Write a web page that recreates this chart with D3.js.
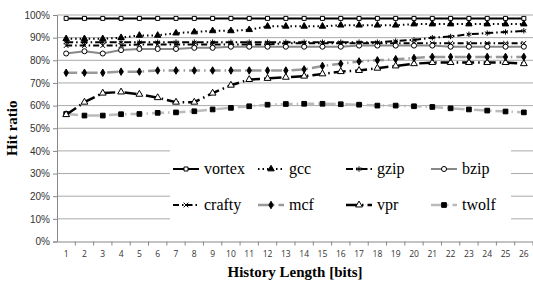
<!DOCTYPE html>
<html>
<head>
<meta charset="utf-8">
<script src="https://cdn.jsdelivr.net/npm/d3@7"></script>
<style>
  body { margin: 0; background: #fff; }
  svg { display: block; }
</style>
</head>
<body>
<div class="chart"></div>
<script>
const width = 533;
const height = 284;

// history length categories
const lengths = [1, 2, 3, 4, 5, 6, 7, 8, 9, 10, 11, 12, 13, 14, 15, 16, 17, 18, 19, 20, 21, 22, 23, 24, 25, 26];
const yTicks = [0, 10, 20, 30, 40, 50, 60, 70, 80, 90, 100];

// hit ratio (%) per benchmark
const vortex = [98.5, 98.5, 98.5, 98.5, 98.5, 98.5, 98.5, 98.5, 98.5, 98.5, 98.5, 98.5, 98.5, 98.5, 98.5, 98.5, 98.5, 98.5, 98.5, 98.5, 98.5, 98.5, 98.5, 98.5, 98.5, 98.5];
const gcc = [89.5, 89.5, 89.5, 90, 91, 91, 92, 92.5, 93, 93, 93.5, 95, 95, 95, 95, 95.5, 95.5, 95.5, 95.5, 96, 96, 96, 96, 96, 96, 96];
const gzip = [88, 88, 88, 88, 88, 88, 88, 88, 88, 88, 88, 88, 88, 88, 88, 88, 88, 88, 88.5, 89, 90, 90.5, 91.5, 92, 92.5, 93];
const bzip = [83, 84, 83, 84.5, 85, 85, 85, 85.5, 85.5, 86, 86, 86, 86, 86, 86, 86, 86.5, 86.5, 86.5, 86.5, 86.5, 86, 86, 86, 86, 86];
const crafty = [86.5, 86.5, 86.5, 86.5, 87, 87, 87, 87, 87, 87, 87, 87, 87.5, 87.5, 87.5, 87.5, 87.5, 87.5, 87.5, 87.5, 87.5, 87.5, 87.5, 87.5, 87.5, 87.5];
const mcf = [74.5, 74.5, 74.5, 75, 75, 75.5, 75.5, 75.5, 75.5, 75.5, 75.5, 75.5, 75.5, 76, 77.5, 78.5, 79.5, 80, 80.5, 81, 81.5, 81.5, 81.5, 81.5, 81.5, 81.5];
const vpr = [56, 61.5, 65.5, 66, 65, 63.5, 61.5, 61.5, 65.5, 69, 71.5, 72, 72.5, 73, 74, 75, 75.5, 76.5, 77.5, 78.5, 79, 79, 79, 79, 79, 78.5];
const twolf = [56.3, 55.6, 55.6, 56.2, 56.3, 56.8, 57, 57.5, 58.3, 59, 59.7, 60.4, 60.7, 60.8, 60.8, 60.6, 60.4, 60, 60, 59.7, 59.4, 58.8, 58.3, 57.8, 57.4, 57];

const seriesNames = ['vortex', 'gcc', 'gzip', 'bzip', 'crafty', 'mcf', 'vpr', 'twolf'];
const seriesValues = [vortex, gcc, gzip, bzip, crafty, mcf, vpr, twolf];

// look of each series
const styles = {
  vortex: { stroke: '#000', sw: 2, dash: null, sym: d3.symbolSquare, size: 16, fill: '#fff', mstroke: '#000' },
  gcc:    { stroke: '#000', sw: 2, dash: '1.5,3', sym: d3.symbolTriangle, size: 18, fill: '#000', mstroke: '#000' },
  gzip:   { stroke: '#000', sw: 2, dash: '7,3,1.5,3', sym: d3.symbolAsterisk, size: 20, fill: 'none', mstroke: '#000' },
  bzip:   { stroke: '#888', sw: 2, dash: null, sym: d3.symbolCircle, size: 20, fill: '#fff', mstroke: '#000' },
  crafty: { stroke: '#000', sw: 2, dash: '6,3,1.5,3', sym: d3.symbolTimes, size: 16, fill: 'none', mstroke: '#000' },
  mcf:    { stroke: '#999', sw: 2.5, dash: '11,4,1.5,4', sym: d3.symbolDiamond, size: 16, fill: '#000', mstroke: '#000' },
  vpr:    { stroke: '#000', sw: 2.5, dash: '12,4,1.5,4', sym: d3.symbolTriangle, size: 20, fill: '#fff', mstroke: '#000' },
  twolf:  { stroke: '#bbb', sw: 2.5, dash: '12,4,1.5,4', sym: d3.symbolSquare, size: 22, fill: '#000', mstroke: '#000' }
};

const margin = { top: 15, right: 0, bottom: 42.5, left: 57 };

const svg = d3.select('.chart').append('svg')
  .attr('width', width)
  .attr('height', height);

const x = d3.scaleBand()
  .domain(lengths)
  .range([margin.left, width - margin.right]);

const y = d3.scaleLinear()
  .domain([0, 100])
  .range([height - margin.bottom, margin.top]);

const cx = d => x(d) + x.bandwidth() / 2;

// gridlines
svg.append('g')
  .selectAll('line')
  .data(yTicks.filter(t => t > 0))
  .enter().append('line')
  .attr('x1', margin.left)
  .attr('x2', width - margin.right)
  .attr('y1', d => y(d))
  .attr('y2', d => y(d))
  .attr('stroke', '#aaa')
  .attr('stroke-width', 1);

// y axis
const yAxis = svg.append('g')
  .attr('transform', `translate(${margin.left},0)`)
  .call(d3.axisLeft(y).tickValues(yTicks).tickFormat(d => d + '%').tickSize(4).tickPadding(3));
yAxis.select('.domain').attr('stroke', '#888');
yAxis.selectAll('.tick line').attr('stroke', '#888');
yAxis.selectAll('text')
  .attr('font-family', 'Liberation Sans, Arial, sans-serif')
  .attr('font-size', 10)
  .attr('fill', '#333');

// x axis
const xAxis = svg.append('g')
  .attr('transform', `translate(0,${y(0)})`)
  .call(d3.axisBottom(x).tickSize(0).tickPadding(9));
xAxis.select('.domain').attr('stroke', '#888');
xAxis.selectAll('text')
  .attr('font-family', 'Open Sans, sans-serif')
  .attr('font-size', 8.5)
  .attr('fill', '#333');
// tick marks between categories
svg.append('g')
  .selectAll('line')
  .data(lengths)
  .enter().append('line')
  .attr('x1', d => x(d) + x.bandwidth())
  .attr('x2', d => x(d) + x.bandwidth())
  .attr('y1', y(0))
  .attr('y2', y(0) + 4)
  .attr('stroke', '#888');

// axis titles
svg.append('text')
  .attr('transform', `translate(17,${(y(0) + y(100)) / 2}) rotate(-90)`)
  .attr('text-anchor', 'middle')
  .attr('font-family', '"Liberation Serif", "Times New Roman", serif')
  .attr('font-weight', 'bold')
  .attr('font-size', 15)
  .text('Hit ratio');

svg.append('text')
  .attr('x', (margin.left + width) / 2)
  .attr('y', 277)
  .attr('text-anchor', 'middle')
  .attr('font-family', '"Liberation Serif", "Times New Roman", serif')
  .attr('font-weight', 'bold')
  .attr('font-size', 15)
  .text('History Length [bits]');

// series lines + markers
const line = d3.line()
  .x((d, i) => cx(lengths[i]))
  .y(d => y(d));

const plot = svg.append('g');

seriesNames.slice().reverse().forEach(name => {
  const vals = seriesValues[seriesNames.indexOf(name)];
  const s = styles[name];
  plot.append('path')
    .datum(vals)
    .attr('fill', 'none')
    .attr('stroke', s.stroke)
    .attr('stroke-width', s.sw)
    .attr('stroke-dasharray', s.dash)
    .attr('d', line);
  plot.append('g')
    .selectAll('path')
    .data(vals)
    .enter().append('path')
    .attr('transform', (d, i) => `translate(${cx(lengths[i])},${y(d)})`)
    .attr('d', d3.symbol().type(s.sym).size(s.size))
    .attr('fill', s.fill)
    .attr('stroke', s.mstroke)
    .attr('stroke-width', 1);
});

// legend, white box over the gridlines
const legend = svg.append('g');
legend.append('rect')
  .attr('x', 170)
  .attr('y', 136)
  .attr('width', 341)
  .attr('height', 92)
  .attr('fill', '#fff');

const colX = [173, 258, 346, 431];
const rowY = [169, 205];

seriesNames.forEach((name, i) => {
  const s = styles[name];
  const lx = colX[i % 4];
  const ly = rowY[Math.floor(i / 4)];
  const item = legend.append('g');
  item.append('line')
    .attr('x1', lx)
    .attr('x2', lx + 26)
    .attr('y1', ly)
    .attr('y2', ly)
    .attr('stroke', s.stroke)
    .attr('stroke-width', s.sw)
    .attr('stroke-dasharray', s.dash);
  item.append('path')
    .attr('transform', `translate(${lx + 13},${ly})`)
    .attr('d', d3.symbol().type(s.sym).size(s.size))
    .attr('fill', s.fill)
    .attr('stroke', s.mstroke)
    .attr('stroke-width', 1);
  item.append('text')
    .attr('x', lx + 31)
    .attr('y', ly)
    .attr('dy', '0.32em')
    .attr('font-family', '"Liberation Serif", "Times New Roman", serif')
    .attr('font-size', 16)
    .attr('fill', '#000')
    .text(name);
});
</script>
</body>
</html>
